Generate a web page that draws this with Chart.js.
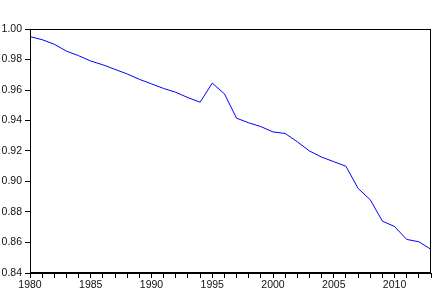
<!DOCTYPE html>
<html>
<head>
<meta charset="utf-8">
<script src="https://cdn.jsdelivr.net/npm/chart.js@4"></script>
<style>
  html,body{margin:0;padding:0;background:#fff;}
  #wrap{width:432px;height:293px;position:relative;}
</style>
</head>
<body>
<div id="wrap"><canvas id="chart"></canvas></div>
<script>
/* yearly series, values */
const years = [1980,1981,1982,1983,1984,1985,1986,1987,1988,1989,
               1990,1991,1992,1993,1994,1995,1996,1997,1998,1999,
               2000,2001,2002,2003,2004,2005,2006,2007,2008,2009,
               2010,2011,2012,2013];
const values = [0.995,0.993,0.990,0.9855,0.9825,0.979,0.9765,0.9735,0.9705,0.967,
                0.964,0.961,0.9585,0.955,0.952,0.9645,0.9575,0.9415,0.9385,0.936,
                0.9325,0.9315,0.926,0.920,0.916,0.913,0.910,0.8955,0.888,0.874,
                0.8705,0.862,0.8605,0.8555];
const yTicks = [0.84,0.86,0.88,0.90,0.92,0.94,0.96,0.98,1.00];
const labelYears = [1980,1985,1990,1995,2000,2005,2010];

const ink = '#000';
const font = {family:'"Liberation Sans", Arial, sans-serif', size:10.5};

// box around the plot area (top and right sides)
const frame = {
  id:'frame',
  afterDraw(chart){
    const {ctx, chartArea:a} = chart;
    ctx.save();
    ctx.strokeStyle = ink;
    ctx.lineWidth = 1;
    ctx.strokeRect(Math.round(a.left)+0.5, Math.round(a.top)+0.5,
                   Math.round(a.right-a.left)-1, Math.round(a.bottom-a.top)-1);
    ctx.restore();
  }
};

new Chart(document.getElementById('chart'),{
  type:'line',
  data:{
    datasets:[{
      data:years.map((y,i)=>({x:y,y:values[i]})),
      borderColor:'#0000ff',
      borderWidth:1,
      pointRadius:0,
      tension:0,
      fill:false
    }]
  },
  options:{
    responsive:true,
    maintainAspectRatio:false,
    animation:false,
    layout:{padding:{top:29,right:1,left:0,bottom:0}},
    plugins:{legend:{display:false},tooltip:{enabled:false}},
    scales:{
      x:{
        type:'linear',
        min:years[0],
        max:years[years.length-1],
        afterFit(s){ s.height = 20; },
        afterBuildTicks(s){ s.ticks = years.map(v=>({value:v})); },
        ticks:{
          autoSkip:false,
          maxRotation:0,
          padding:1,
          color:'#111',
          font:font,
          callback:v=>labelYears.includes(v)?String(v):''
        },
        grid:{drawOnChartArea:false,drawTicks:true,tickLength:5,color:ink},
        border:{display:true,color:ink,width:1}
      },
      y:{
        min:0.84,
        max:1.00,
        afterFit(s){ s.width = 30; },
        afterBuildTicks(s){ s.ticks = yTicks.map(v=>({value:v})); },
        ticks:{
          padding:3,
          color:'#111',
          font:font,
          callback:v=>v.toFixed(2)
        },
        grid:{drawOnChartArea:false,drawTicks:true,tickLength:5,color:ink},
        border:{display:true,color:ink,width:1}
      }
    }
  },
  plugins:[frame]
});
</script>
</body>
</html>
